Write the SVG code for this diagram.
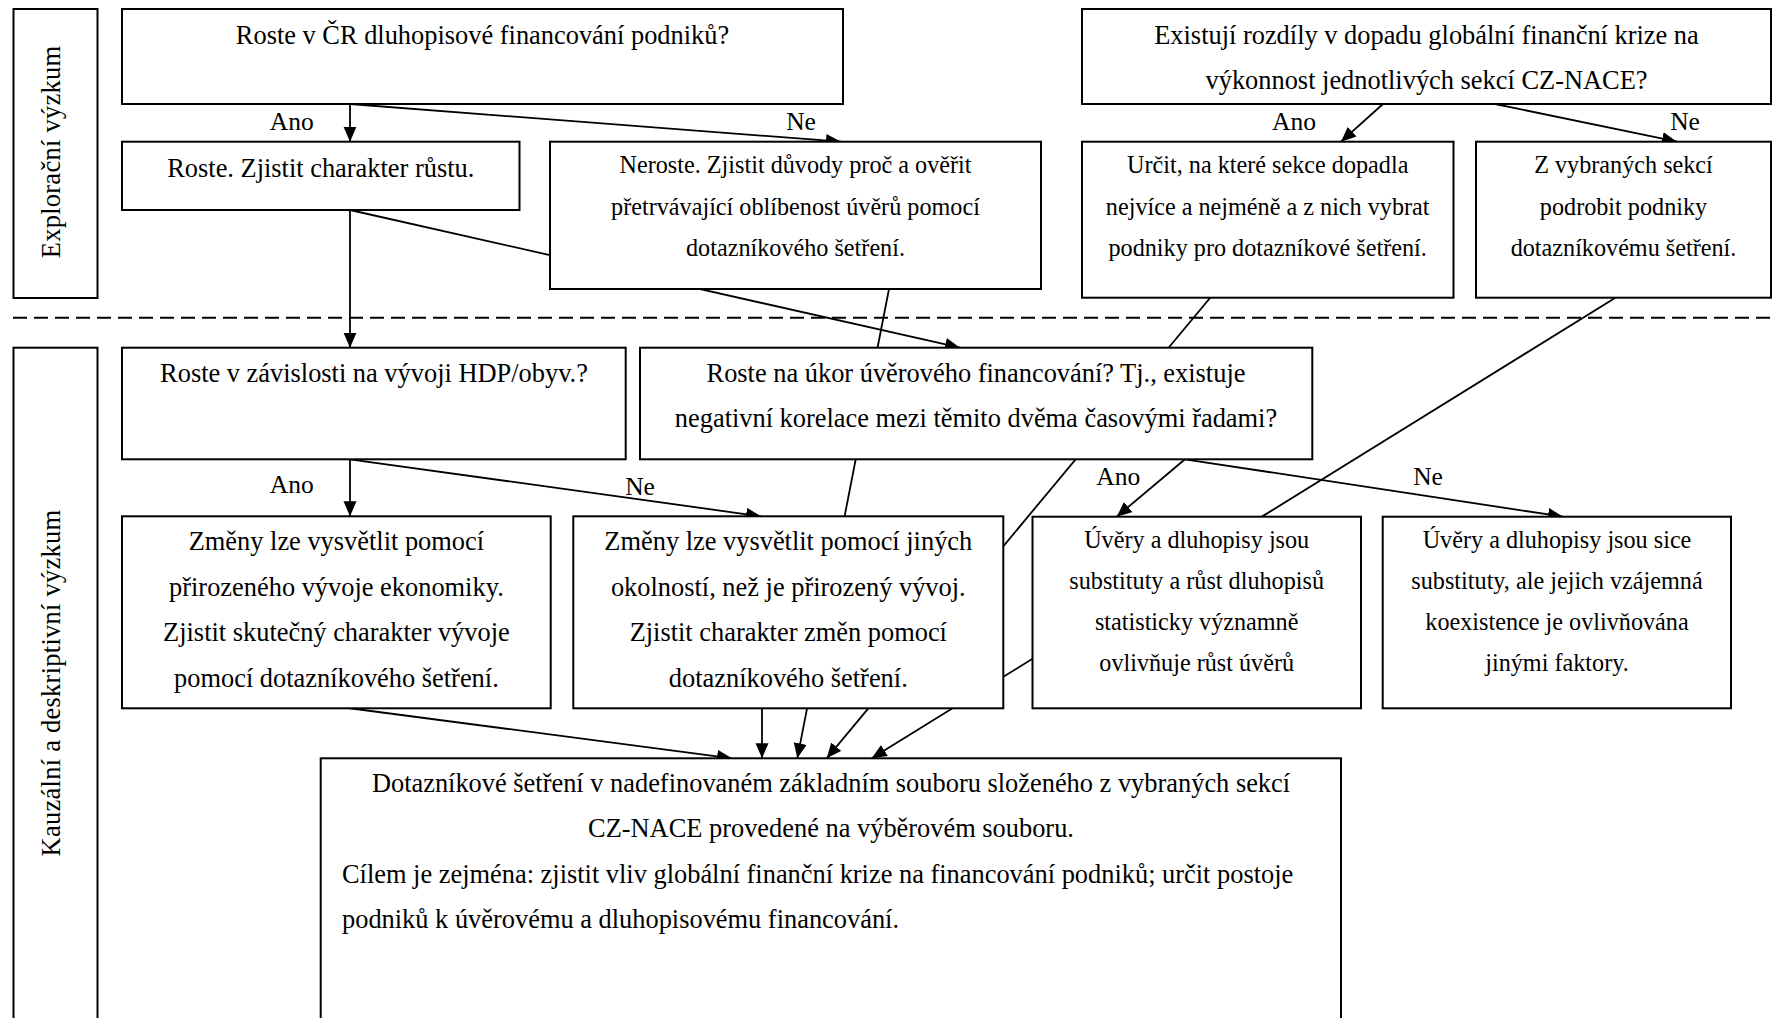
<svg xmlns="http://www.w3.org/2000/svg" width="1773" height="1018" viewBox="0 0 1773 1018">
<defs>
<marker id="ah" markerUnits="userSpaceOnUse" markerWidth="16" markerHeight="14" refX="15" refY="6.5" orient="auto">
<path d="M0,0 L15,6.5 L0,13 z" fill="#000"/>
</marker>
<style>
.box{fill:#fff;stroke:#000;stroke-width:2}
.t{font-family:"Liberation Serif","Times New Roman",serif;fill:#000;text-anchor:middle}
.l{font-size:26.4px}
.s{font-size:24.2px}
.lab{font-family:"Liberation Serif","Times New Roman",serif;font-size:25.5px;fill:#000;text-anchor:middle}
.c{fill:none;stroke:#000;stroke-width:1.8}
.ca{fill:none;stroke:#000;stroke-width:1.8;marker-end:url(#ah)}
.side{font-family:"Liberation Serif","Times New Roman",serif;font-size:26.5px;letter-spacing:0.25px;fill:#000;text-anchor:middle}
</style>
</defs>
<rect width="1773" height="1018" fill="#fff"/>

<g id="sections">
<g id="explor">
<rect class="box" x="13.5" y="9" width="84" height="289"/>
<text class="side" transform="translate(60,152) rotate(-90)">Explorační výzkum</text>
</g>
<g id="kauz">
<rect class="box" x="13.5" y="347.7" width="84" height="690"/>
<text class="side" transform="translate(60,683) rotate(-90)">Kauzální a deskriptivní výzkum</text>
</g>
<line x1="13" y1="317.7" x2="1773" y2="317.7" stroke="#000" stroke-width="2" stroke-dasharray="14 7"/>
</g>

<g id="connectors">
<line class="ca" x1="350" y1="104" x2="350" y2="141.7"/>
<line class="ca" x1="350" y1="104" x2="841" y2="141.7"/>
<line class="ca" x1="350" y1="210" x2="960" y2="347.7"/>
<line class="ca" x1="350" y1="210" x2="350" y2="347.7"/>
<line class="ca" x1="889" y1="289" x2="797.3" y2="758.3"/>
<line class="ca" x1="1210" y1="298" x2="826.7" y2="758.3"/>
<line class="ca" x1="1615" y1="298" x2="871.7" y2="758.3"/>
<line class="ca" x1="1383" y1="104" x2="1341" y2="141.7"/>
<line class="ca" x1="1495" y1="104" x2="1677" y2="141.7"/>
<line class="ca" x1="350" y1="459.3" x2="350" y2="516.3"/>
<line class="ca" x1="350" y1="459.3" x2="761" y2="516.3"/>
<line class="ca" x1="1185" y1="459.3" x2="1116.7" y2="516.7"/>
<line class="ca" x1="1185" y1="459.3" x2="1563" y2="516.7"/>
<line class="ca" x1="348" y1="708" x2="732" y2="758.3"/>
<line class="ca" x1="762" y1="708" x2="762" y2="758.3"/>
<text class="lab" x="291.7" y="130">Ano</text>
<text class="lab" x="801" y="130">Ne</text>
<text class="lab" x="1294" y="130">Ano</text>
<text class="lab" x="1685" y="130">Ne</text>
<text class="lab" x="291.7" y="493">Ano</text>
<text class="lab" x="640" y="495">Ne</text>
<text class="lab" x="1118.3" y="485">Ano</text>
<text class="lab" x="1428" y="485">Ne</text>
</g>

<g id="q1">
<rect class="box" x="122" y="9" width="721" height="95"/>
<text class="t l" x="482.5" y="44">Roste v ČR dluhopisové financování podniků?</text>
</g>
<g id="q2">
<rect class="box" x="1082" y="9" width="689" height="95"/>
<text class="t l" x="1426.5" y="43.5">Existují rozdíly v dopadu globální finanční krize na</text>
<text class="t l" x="1426.5" y="89">výkonnost jednotlivých sekcí CZ-NACE?</text>
</g>
<g id="a1">
<rect class="box" x="122" y="141.7" width="397.5" height="68.3"/>
<text class="t l" x="320.8" y="177">Roste. Zjistit charakter růstu.</text>
</g>
<g id="a2">
<rect class="box" x="550" y="141.7" width="491" height="147.3"/>
<text class="t s" x="795.5" y="173">Neroste. Zjistit důvody proč a ověřit</text>
<text class="t s" x="795.5" y="214.5">přetrvávající oblíbenost úvěrů pomocí</text>
<text class="t s" x="795.5" y="256">dotazníkového šetření.</text>
</g>
<g id="a3">
<rect class="box" x="1082" y="141.7" width="371.5" height="156"/>
<text class="t s" x="1267.7" y="173">Určit, na které sekce dopadla</text>
<text class="t s" x="1267.7" y="214.5">nejvíce a nejméně a z nich vybrat</text>
<text class="t s" x="1267.7" y="256">podniky pro dotazníkové šetření.</text>
</g>
<g id="a4">
<rect class="box" x="1476" y="141.7" width="295" height="156"/>
<text class="t s" x="1623.5" y="173">Z vybraných sekcí</text>
<text class="t s" x="1623.5" y="214.5">podrobit podniky</text>
<text class="t s" x="1623.5" y="256">dotazníkovému šetření.</text>
</g>
<g id="b1">
<rect class="box" x="122" y="347.7" width="503.7" height="111.6"/>
<text class="t l" x="374" y="381.5">Roste v závislosti na vývoji HDP/obyv.?</text>
</g>
<g id="b2">
<rect class="box" x="640" y="347.7" width="672.3" height="111.6"/>
<text class="t l" x="976" y="381.5">Roste na úkor úvěrového financování? Tj., existuje</text>
<text class="t l" x="976" y="426.5">negativní korelace mezi těmito dvěma časovými řadami?</text>
</g>
<g id="c1">
<rect class="box" x="122" y="516.3" width="428.7" height="192"/>
<text class="t l" x="336.4" y="550">Změny lze vysvětlit pomocí</text>
<text class="t l" x="336.4" y="595.5">přirozeného vývoje ekonomiky.</text>
<text class="t l" x="336.4" y="641">Zjistit skutečný charakter vývoje</text>
<text class="t l" x="336.4" y="686.5">pomocí dotazníkového šetření.</text>
</g>
<g id="c2">
<rect class="box" x="573.3" y="516.3" width="430" height="192"/>
<text class="t l" x="788.3" y="550">Změny lze vysvětlit pomocí jiných</text>
<text class="t l" x="788.3" y="595.5">okolností, než je přirozený vývoj.</text>
<text class="t l" x="788.3" y="641">Zjistit charakter změn pomocí</text>
<text class="t l" x="788.3" y="686.5">dotazníkového šetření.</text>
</g>
<g id="c3">
<rect class="box" x="1032.5" y="516.7" width="328.5" height="191.6"/>
<text class="t s" x="1196.7" y="548">Úvěry a dluhopisy jsou</text>
<text class="t s" x="1196.7" y="589">substituty a růst dluhopisů</text>
<text class="t s" x="1196.7" y="630">statisticky významně</text>
<text class="t s" x="1196.7" y="671">ovlivňuje růst úvěrů</text>
</g>
<g id="c4">
<rect class="box" x="1382.7" y="516.7" width="348.3" height="191.6"/>
<text class="t s" x="1557" y="548">Úvěry a dluhopisy jsou sice</text>
<text class="t s" x="1557" y="589">substituty, ale jejich vzájemná</text>
<text class="t s" x="1557" y="630">koexistence je ovlivňována</text>
<text class="t s" x="1557" y="671">jinými faktory.</text>
</g>
<g id="d">
<rect class="box" x="320.7" y="758.3" width="1020.3" height="280"/>
<text class="t l" x="831" y="791.5">Dotazníkové šetření v nadefinovaném základním souboru složeného z vybraných sekcí</text>
<text class="t l" x="831" y="837">CZ-NACE provedené na výběrovém souboru.</text>
<text class="t l" x="342" y="882.5" style="text-anchor:start">Cílem je zejména: zjistit vliv globální finanční krize na financování podniků; určit postoje</text>
<text class="t l" x="342" y="928" style="text-anchor:start">podniků k úvěrovému a dluhopisovému financování.</text>
</g>
</svg>
